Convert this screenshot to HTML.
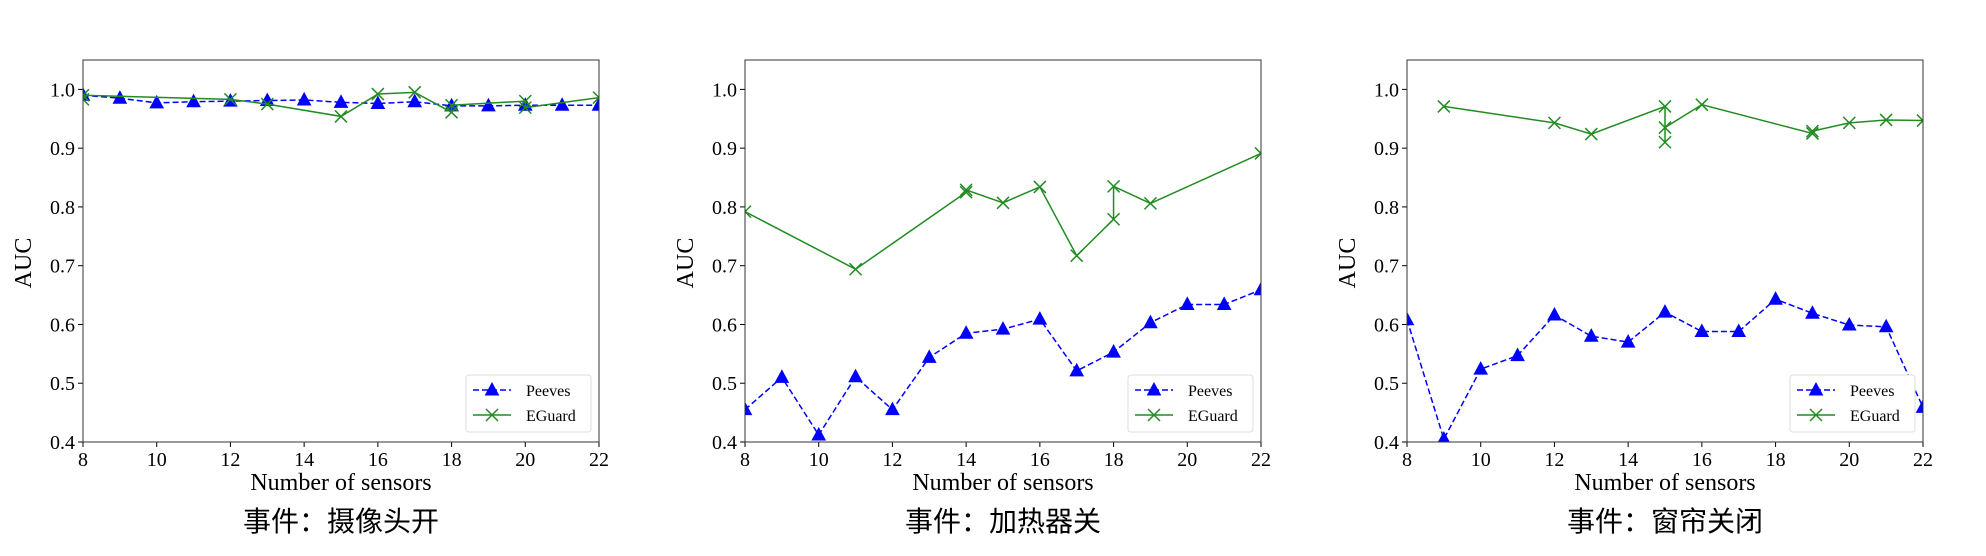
<!DOCTYPE html>
<html><head><meta charset="utf-8">
<style>
html,body{margin:0;padding:0;background:#fff;}
svg{display:block;}
text{font-family:"Liberation Serif","Noto Serif CJK SC",serif;fill:#000;}
.cn{font-family:"Liberation Sans","Noto Sans CJK SC",sans-serif;}
</style></head>
<body>
<svg id="chart" width="1986" height="556" viewBox="0 0 1986 556" xmlns="http://www.w3.org/2000/svg"></svg>
<script>
const xTicks = [8,10,12,14,16,18,20,22];
const yTicks = [0.4,0.5,0.6,0.7,0.8,0.9,1.0];
const yTickLabels = ["0.4","0.5","0.6","0.7","0.8","0.9","1.0"];
const titles = ["事件：摄像头开","事件：加热器关","事件：窗帘关闭"];
const peevesX1 = [8,9,10,11,12,13,14,15,16,17,18,19,20,21,22];
const peevesY1 = [0.99,0.985,0.977,0.979,0.98,0.981,0.982,0.978,0.976,0.979,0.972,0.972,0.973,0.973,0.973];
const eguardX1 = [8,8,12,13,15,16,17,18,18,20,20,22];
const eguardY1 = [0.983,0.99,0.983,0.975,0.954,0.992,0.995,0.961,0.973,0.98,0.969,0.986];
const peevesX2 = [8,9,10,11,12,13,14,15,16,17,18,19,20,21,22];
const peevesY2 = [0.455,0.51,0.412,0.511,0.455,0.544,0.585,0.592,0.609,0.521,0.553,0.603,0.634,0.634,0.659];
const eguardX2 = [8,11,14,14,15,16,17,18,18,19,22];
const eguardY2 = [0.792,0.694,0.825,0.829,0.807,0.834,0.717,0.779,0.835,0.806,0.891];
const peevesX3 = [8,9,10,11,12,13,14,15,16,17,18,19,20,21,22];
const peevesY3 = [0.608,0.405,0.524,0.547,0.616,0.58,0.57,0.621,0.588,0.588,0.643,0.619,0.599,0.596,0.459];
const eguardX3 = [9,12,13,15,15,15,16,19,19,20,21,22];
const eguardY3 = [0.971,0.943,0.924,0.971,0.91,0.935,0.974,0.925,0.929,0.943,0.948,0.947];

const NS="http://www.w3.org/2000/svg";
const svg=document.getElementById('chart');
function mk(tag,attrs,parent){const e=document.createElementNS(NS,tag);for(const k in attrs)e.setAttribute(k,attrs[k]);(parent||svg).appendChild(e);return e;}

const panels=[
 {left:83,px:peevesX1,py:peevesY1,ex:eguardX1,ey:eguardY1},
 {left:745,px:peevesX2,py:peevesY2,ex:eguardX2,ey:eguardY2},
 {left:1407,px:peevesX3,py:peevesY3,ex:eguardX3,ey:eguardY3}
];
const W=516, TOP=60, BOT=442;
const Y0=0.4, Y1=1.05;

function tri(g,x,y,name){
  const t=mk('polygon',{points:`${x},${y-7} ${x-6.5},${y+5} ${x+6.5},${y+5}`,fill:'#0000ff',stroke:'#0000ff','stroke-width':1},g);
  
  
}
function cross(g,x,y,name){
  const p=mk('path',{d:`M${x-6},${y-6}L${x+6},${y+6}M${x-6},${y+6}L${x+6},${y-6}`,stroke:'#228b22','stroke-width':1.5,fill:'none'},g);
  
  
}

panels.forEach((p,i)=>{
  const L=p.left, R=L+W;
  const xs=v=>L+(v-8)/(22-8)*W;
  const ys=v=>BOT-(v-Y0)/(Y1-Y0)*(BOT-TOP);
  const g=mk('g',{});
  
  
  const cp=mk('clipPath',{id:'clip'+i},g);
  mk('rect',{x:L,y:TOP,width:W,height:BOT-TOP},cp);
  xTicks.forEach(t=>{
    const x=xs(t);
    mk('line',{x1:x,y1:BOT,x2:x,y2:BOT+5,stroke:'#000','stroke-width':1},g);
    const tx=mk('text',{x:x,y:BOT+24,'font-size':20,'text-anchor':'middle'},g);
    tx.textContent=t;
    
    
  });
  yTicks.forEach((t,k)=>{
    const y=ys(t);
    mk('line',{x1:L-5,y1:y,x2:L,y2:y,stroke:'#000','stroke-width':1},g);
    const tx=mk('text',{x:L-8,y:y+7,'font-size':20,'text-anchor':'end'},g);
    tx.textContent=yTickLabels[k];
    
    
  });
  const sg=mk('g',{'clip-path':`url(#clip${i})`},g);
  const pe=mk('polyline',{points:p.px.map((v,k)=>xs(v)+','+ys(p.py[k])).join(' '),fill:'none',stroke:'#0000ff','stroke-width':1.5,'stroke-dasharray':'6,3'},sg);
  
  
  p.px.forEach((v,k)=>tri(sg,xs(v),ys(p.py[k]),'peeves-point'));
  const eg=mk('polyline',{points:p.ex.map((v,k)=>xs(v)+','+ys(p.ey[k])).join(' '),fill:'none',stroke:'#228b22','stroke-width':1.5},sg);
  
  
  p.ex.forEach((v,k)=>cross(sg,xs(v),ys(p.ey[k]),'eguard-point'));
  const fr=mk('rect',{x:L,y:TOP,width:W,height:BOT-TOP,fill:'none',stroke:'#333','stroke-width':1},g);
  
  
  const lg=mk('g',{},g);
  
  
  const lx=L+383, ly=375;
  mk('rect',{x:lx,y:ly,width:125,height:57,rx:3,fill:'#fff',stroke:'#ddd','stroke-width':1},lg);
  mk('line',{x1:lx+7,y1:ly+15,x2:lx+45,y2:ly+15,stroke:'#0000ff','stroke-width':1.5,'stroke-dasharray':'6,3'},lg);
  tri(lg,lx+26,ly+15,'legend-peeves-marker');
  const t1=mk('text',{x:lx+60,y:ly+21,'font-size':16},lg);t1.textContent='Peeves';
  
  
  mk('line',{x1:lx+7,y1:ly+40,x2:lx+45,y2:ly+40,stroke:'#228b22','stroke-width':1.5},lg);
  cross(lg,lx+26,ly+40,'legend-eguard-marker');
  const t2=mk('text',{x:lx+60,y:ly+46,'font-size':16},lg);t2.textContent='EGuard';
  
  
  const xl=mk('text',{x:L+W/2,y:490,'font-size':24,'text-anchor':'middle'},g);
  xl.textContent='Number of sensors';
  
  
  const yl=mk('text',{x:0,y:0,'font-size':24,'text-anchor':'middle',transform:`translate(${L-52},${(TOP+BOT)/2+12}) rotate(-90)`},g);
  yl.textContent='AUC';
  
  
  const tt=mk('text',{x:L+W/2,y:531,'font-size':28,'text-anchor':'middle',class:'cn'},g);
  tt.textContent=titles[i];
  
  
});
</script>
</body></html>
